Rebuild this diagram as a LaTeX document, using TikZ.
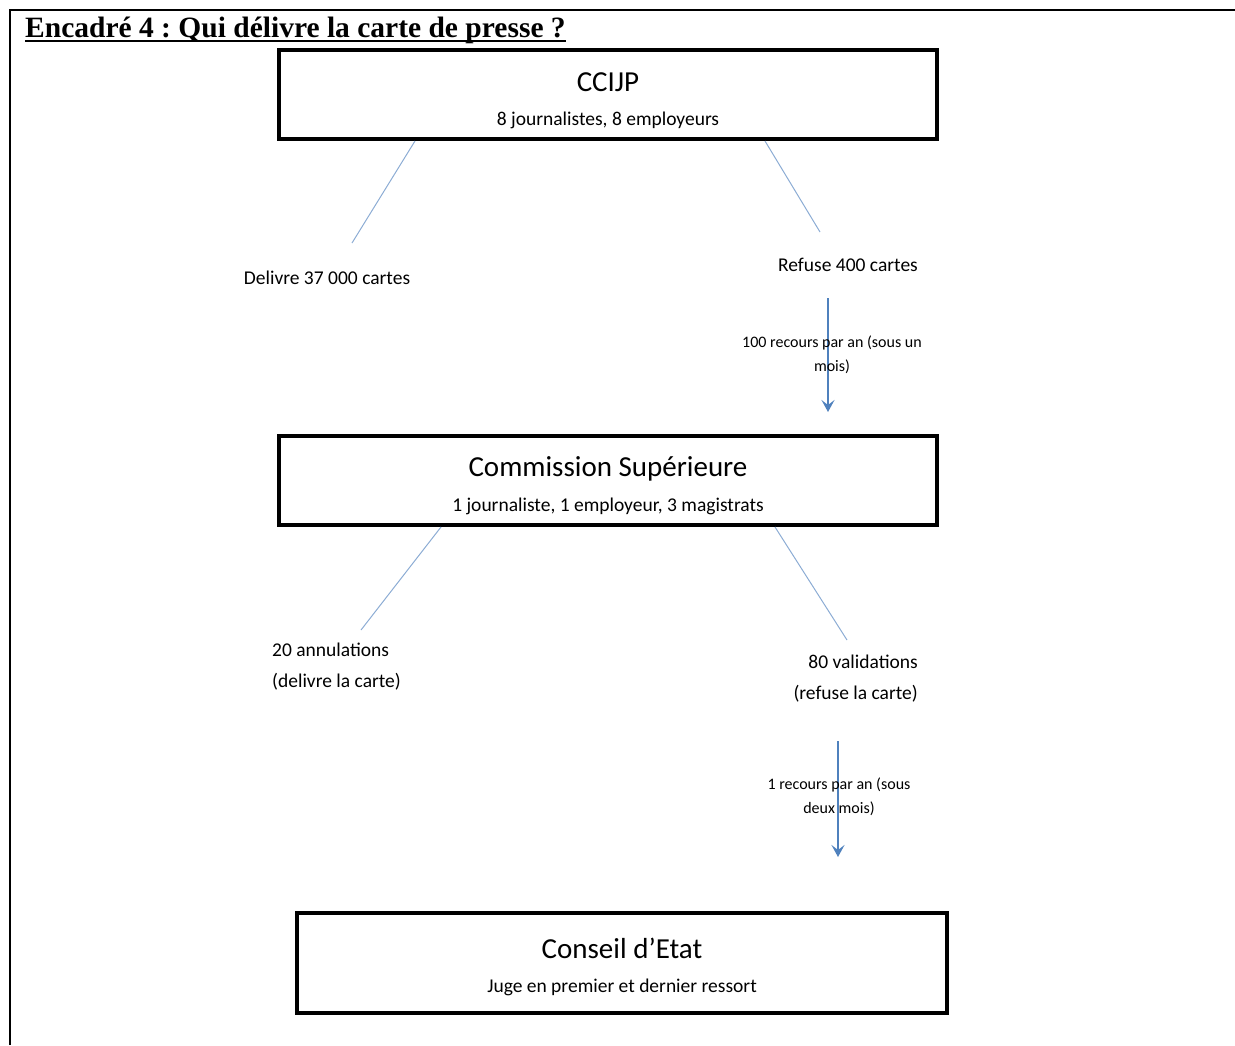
\documentclass[tikz,border=0pt]{standalone}
\usepackage{fontspec}
\setmainfont{Liberation Serif}
\newfontfamily\calfont{Carlito}
\usetikzlibrary{arrows.meta}
\frenchspacing
\definecolor{thinblue}{RGB}{140,172,212}
\definecolor{arrblue}{RGB}{79,129,189}
\tikzset{
  box/.style={draw=black, line width=4pt, minimum width=658pt, minimum height=89pt, inner sep=0pt},
  boxtitle/.style={font=\calfont\fontsize{29}{34}\selectfont, inner sep=0pt},
  boxsub/.style={font=\calfont\fontsize{19.5}{22}\selectfont, inner sep=0pt},
  lab/.style={font=\calfont\fontsize{19.5}{31}\selectfont, inner sep=0pt},
  arrlab/.style={font=\calfont\fontsize{16}{24}\selectfont, inner sep=0pt, align=center},
  thinline/.style={draw=thinblue, line width=1pt},
  bigarrow/.style={draw=arrblue, line width=2.8pt, -{Stealth[length=12pt,width=13pt,inset=5pt]}},
  frameline/.style={line width=2.5pt}
}
\begin{document}
\begin{tikzpicture}[x=1pt,y=-1pt]
\useasboundingbox (0,0) rectangle (1235,1045);
% frame
\draw[frameline] (10,1045) -- (10,10) -- (1235,10);
% title
\node[anchor=base west, inner sep=0pt, font=\bfseries\fontsize{29.5}{32}\selectfont] (title) at (25,37.5) {Encadré 4 : Qui délivre la carte de presse ?};
\draw[line width=1.5pt] ([yshift=-3.5pt]title.base west) -- ([yshift=-3.5pt]title.base east);
% boxes
\node[box] (b1) at (608,94.5) {};
\node[boxtitle] (b1t) at (608,82) {CCIJP};
\node[boxsub] (b1s) at (608,120) {8 journalistes, 8 employeurs};
\node[box] (b2) at (608,480.5) {};
\node[boxtitle] (b2t) at (608,469) {Commission Supérieure};
\node[boxsub] (b2s) at (608,506) {1 journaliste, 1 employeur, 3 magistrats};
\node[box, minimum width=650pt, minimum height=100pt] (b3) at (622,963) {};
\node[boxtitle] (b3t) at (622,948) {Conseil d’Etat};
\node[boxsub] (b3s) at (622,987) {Juge en premier et dernier ressort};
% labels
\node[lab] (l1) at (327,278) {Delivre 37 000 cartes};
\node[lab] (l2) at (848,265) {Refuse 400 cartes};
\node[lab, align=left, anchor=north west] (l3) at (272,643) {20 annulations\\(delivre la carte)};
\node[lab, align=right, anchor=north east] (l4) at (918,655) {80 validations\\(refuse la carte)};
% thin connectors
\coordinate (c1) at (352,243);
\coordinate (c2) at (820,232);
\coordinate (c3) at (361,630);
\coordinate (c4) at (847,640);
\draw[thinline] (b1.south west -| 415,0) -- (c1);
\draw[thinline] (b1.south west -| 765,0) -- (c2);
\draw[thinline] (b2.south west -| 441,0) -- (c3);
\draw[thinline] (b2.south west -| 775,0) -- (c4);
% arrows
\coordinate (a1s) at (828,298);
\coordinate (a1e) at (828,412);
\coordinate (a2s) at (838,741);
\coordinate (a2e) at (838,857);
\draw[bigarrow] (a1s) -- (a1e);
\draw[bigarrow] (a2s) -- (a2e);
\node[arrlab] (al1) at (832,355) {100 recours par an (sous un\\mois)};
\node[arrlab] (al2) at (839,797) {1 recours par an (sous\\deux mois)};
\end{tikzpicture}
\end{document}
